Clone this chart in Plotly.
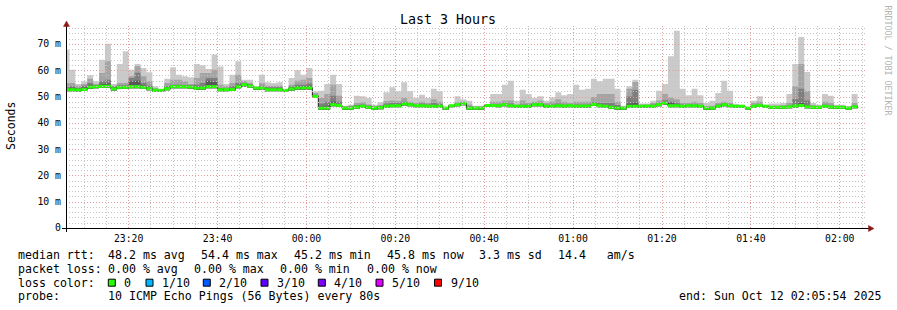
import math
from datetime import datetime, timedelta
import plotly.graph_objects as go

# ---------------- data ----------------
T_START = datetime(2025, 10, 11, 23, 5, 54)
T_END = datetime(2025, 10, 12, 2, 5, 54)
T_FIRST = datetime(2025, 10, 11, 23, 5, 20)
STEP_SECONDS = 80

median_ms = [
    52.6, 52.6, 52.5, 52.7, 53.6, 53.75, 53.9, 53.9, 52.9, 53.5,
    53.5, 53.75, 53.75, 53.5, 53.0, 52.35, 52.35, 53.0, 53.75, 53.75,
    53.75, 53.6, 53.25, 53.25, 53.75, 53.75, 52.6, 52.6, 52.7, 53.75,
    54.5, 54.0, 53.25, 53.25,
    52.6, 52.6, 52.6, 52.35, 52.9, 53.25, 53.25, 53.25, 50.0, 45.6,
    45.6, 46.9, 46.6, 45.6, 45.6, 46.0, 46.3, 45.9, 45.6, 45.75,
    46.3, 46.5, 46.5, 47.2, 46.9, 46.5, 46.5, 46.3, 46.3, 46.3,
    45.6, 46.5, 46.9, 47.3,
    45.6, 45.6, 45.6, 46.6, 46.6, 46.5, 46.9, 46.5, 46.3, 46.3,
    46.3, 46.9, 46.9, 46.3, 46.3, 46.5, 46.4, 46.5, 46.3, 46.4,
    46.4, 47.0, 46.5, 46.3, 45.9, 45.6, 45.6, 46.3, 46.3, 46.3,
    46.4, 46.3, 46.9, 47.5,
    46.5, 46.5, 46.3, 46.5, 46.5, 46.3, 45.6, 45.6, 46.3, 46.9,
    46.5, 46.3, 46.3, 45.6, 46.3, 46.6, 46.3, 45.9, 45.9, 45.9,
    46.1, 46.4, 46.6, 46.1, 45.9, 45.9, 46.3, 46.0, 45.9, 45.9,
    45.6, 46.1,
]

ping_min = [
    52.0, 52.0, 51.9, 52.1, 52.9, 53.1, 53.3, 53.2, 52.3, 52.9,
    52.9, 53.1, 53.1, 52.9, 52.4, 51.8, 51.8, 52.4, 53.1, 53.1,
    53.1, 53.0, 52.6, 52.6, 53.1, 53.1, 52.0, 52.0, 52.1, 53.1,
    53.8, 53.4, 52.6, 52.6,
    52.0, 52.0, 52.0, 51.9, 52.3, 52.6, 52.6, 52.6, 49.4, 45.0,
    45.0, 46.3, 46.0, 45.0, 45.0, 45.4, 45.7, 45.3, 45.0, 45.2,
    45.7, 45.9, 45.9, 46.6, 46.3, 45.9, 45.9, 45.7, 45.7, 45.7,
    45.0, 45.9, 46.3, 46.7,
    45.0, 45.0, 45.0, 46.0, 46.0, 45.9, 46.3, 45.9, 45.7, 45.7,
    45.7, 46.3, 46.3, 45.7, 45.7, 45.9, 45.8, 45.9, 45.7, 45.8,
    45.8, 46.4, 45.9, 45.7, 45.3, 45.0, 45.0, 45.7, 45.7, 45.7,
    45.8, 45.7, 46.3, 46.9,
    45.9, 45.9, 45.7, 45.9, 45.9, 45.7, 45.0, 45.0, 45.7, 46.3,
    45.9, 45.7, 45.7, 45.0, 45.7, 46.0, 45.7, 45.3, 45.3, 45.3,
    45.5, 45.8, 46.0, 45.5, 45.3, 45.3, 45.7, 45.4, 45.3, 45.3,
    45.0, 45.5,
]

ping_p7 = [
    53.2, 53.3, 53.0, 53.4, 54.3, 54.4, 54.8, 55.0, 53.4, 54.1,
    54.1, 55.8, 56.0, 54.2, 53.6, 52.6, 52.4, 53.5, 54.3, 54.3,
    54.4, 54.2, 53.8, 54.0, 56.0, 55.5, 53.0, 52.8, 53.2, 54.3,
    55.0, 54.5, 53.5, 53.7,
    53.1, 53.1, 53.1, 52.4, 53.4, 53.9, 53.9, 54.0, 50.4, 46.3,
    46.5, 48.0, 47.2, 45.9, 46.0, 46.5, 46.7, 46.3, 45.9, 46.1,
    46.8, 47.0, 47.0, 47.6, 47.3, 46.8, 46.9, 46.7, 46.8, 46.7,
    45.7, 46.5, 47.1, 47.5,
    46.0, 45.9, 45.9, 46.8, 46.9, 46.8, 47.2, 46.9, 46.6, 46.6,
    46.6, 47.2, 47.2, 46.6, 46.6, 46.8, 46.7, 46.8, 46.6, 46.7,
    46.7, 47.3, 46.9, 46.7, 46.4, 46.1, 45.8, 47.3, 47.6, 46.6,
    46.7, 46.6, 47.2, 47.8,
    47.6, 47.2, 46.6, 46.8, 46.8, 46.6, 45.9, 45.9, 46.6, 47.2,
    46.8, 46.6, 46.5, 45.7, 46.6, 46.9, 46.5, 46.1, 46.1, 46.1,
    46.4, 46.9, 47.5, 46.6, 46.1, 46.1, 46.6, 46.3, 46.1, 46.1,
    45.8, 46.4,
]

ping_p8 = [
    53.5, 53.9, 53.2, 54.1, 55.1, 54.1, 55.8, 56.4, 53.7, 54.1,
    54.1, 57.0, 59.0, 55.1, 54.1, 52.8, 52.6, 53.9, 54.5, 54.5,
    54.1, 53.9, 54.5, 55.1, 57.0, 57.0, 53.2, 53.0, 53.9, 55.1,
    54.8, 54.5, 53.6, 54.1,
    53.5, 53.5, 53.5, 52.4, 53.8, 54.5, 54.5, 55.0, 50.7, 47.3,
    48.0, 50.3, 48.0, 46.0, 46.3, 46.8, 47.0, 46.5, 46.0, 46.3,
    47.3, 47.5, 47.5, 48.0, 47.5, 47.0, 47.3, 47.0, 47.5, 47.2,
    45.8, 46.5, 47.3, 47.6,
    46.3, 46.0, 46.0, 46.9, 47.2, 47.2, 47.5, 47.3, 46.8, 47.0,
    47.0, 47.5, 47.5, 46.9, 47.0, 47.3, 47.0, 47.0, 47.0, 47.0,
    47.0, 47.8, 47.5, 47.5, 47.5, 46.8, 45.9, 50.0, 52.5, 46.8,
    46.8, 47.0, 47.5, 48.6,
    48.0, 47.6, 47.0, 47.0, 47.2, 46.8, 46.0, 46.0, 47.0, 47.5,
    47.0, 46.6, 46.5, 45.7, 46.8, 47.2, 46.5, 46.2, 46.2, 46.3,
    46.6, 49.0, 53.0, 48.5, 46.3, 46.2, 47.0, 46.6, 46.2, 46.2,
    45.8, 46.6,
]

ping_p9 = [
    55.1, 55.1, 54.1, 54.8, 56.8, 54.8, 58.9, 63.4, 54.1, 55.1,
    55.1, 57.7, 61.5, 57.7, 55.8, 53.2, 52.9, 55.1, 56.4, 56.4,
    55.8, 54.8, 57.0, 58.9, 58.9, 60.2, 54.5, 53.9, 55.1, 58.3,
    55.8, 55.1, 53.5, 55.1,
    54.1, 54.1, 54.1, 52.4, 54.5, 56.0, 56.4, 57.0, 51.3, 49.4,
    51.0, 54.5, 50.3, 46.3, 46.5, 47.5, 47.8, 47.0, 46.5, 46.8,
    48.3, 48.5, 48.3, 49.4, 48.0, 47.5, 48.0, 47.5, 49.0, 48.0,
    46.0, 46.6, 47.8, 48.0,
    47.0, 46.2, 46.2, 47.0, 48.0, 48.0, 48.5, 48.5, 47.0, 48.5,
    47.5, 48.0, 48.5, 47.5, 48.0, 49.0, 48.0, 47.5, 48.0, 48.0,
    48.0, 49.8, 51.0, 51.0, 51.0, 48.0, 46.0, 53.0, 55.5, 47.0,
    47.0, 47.5, 48.5, 51.0,
    49.5, 49.0, 47.5, 47.5, 48.0, 47.5, 46.3, 46.5, 47.5, 48.0,
    47.5, 46.8, 46.6, 45.8, 47.5, 48.0, 46.6, 46.5, 46.5, 46.8,
    47.5, 53.9, 62.4, 52.0, 46.8, 46.5, 48.0, 47.5, 46.5, 46.5,
    46.0, 47.5,
]

ping_max = [
    67.8, 60.2, 54.8, 55.8, 58.1, 55.8, 64.0, 70.1, 54.8, 62.4,
    67.2, 60.2, 62.4, 60.85, 59.2, 53.9, 52.9, 56.8, 61.1, 58.3,
    57.7, 57.3, 62.4, 61.9, 60.5, 66.0, 61.4, 54.8, 58.3, 63.4,
    56.4, 56.4, 53.9, 58.3,
    55.4, 55.1, 55.4, 52.4, 57.0, 60.0, 58.3, 60.8, 52.0, 52.2,
    54.8, 58.3, 54.8, 46.5, 46.9, 50.3, 50.1, 49.4, 46.9, 47.8,
    51.6, 53.5, 52.0, 55.4, 52.0, 49.4, 50.7, 49.4, 53.0, 52.0,
    45.9, 46.9, 50.1, 49.0,
    48.4, 46.5, 46.5, 47.2, 51.0, 51.0, 54.5, 56.0, 48.4, 52.6,
    51.0, 49.4, 50.1, 48.4, 49.7, 51.6, 50.5, 51.0, 54.5, 52.6,
    53.0, 56.8, 55.8, 56.8, 56.8, 53.0, 46.5, 53.9, 56.4, 47.3,
    47.3, 48.4, 52.2, 54.8,
    65.3, 75.0, 53.0, 50.5, 53.0, 50.5, 47.5, 48.4, 51.3, 56.0,
    52.2, 47.2, 46.9, 45.9, 48.4, 50.1, 46.9, 47.3, 47.3, 47.5,
    51.0, 62.4, 72.6, 59.3, 47.5, 46.9, 51.0, 50.3, 46.9, 46.9,
    46.4, 51.0,
]

y_tick_vals = [0, 10, 20, 30, 40, 50, 60, 70]
y_tick_text = ["0", "10 m", "20 m", "30 m", "40 m", "50 m", "60 m", "70 m"]

legend_rows = [
    [(16.7, "median rtt:"), (107.3, "48.2 ms avg"), (200.0, "54.4 ms max"),
     (293.0, "45.2 ms min"), (386.0, "45.8 ms now"), (478.3, "3.3 ms sd"),
     (557.3, "14.4   am/s")],
    [(16.7, "packet loss:"), (107.3, "0.00 % avg"), (193.3, "0.00 % max"),
     (279.3, "0.00 % min"), (365.7, "0.00 % now")],
    [(16.7, "loss color:")],
    [(16.7, "probe:"), (107.3, "10 ICMP Echo Pings (56 Bytes) every 80s"),
     (678.3, "end: Sun Oct 12 02:05:54 2025")],
]
legend_row_y = [254.7, 268.7, 282.7, 296.3]
loss_labels = ["0", "1/10", "2/10", "3/10", "4/10", "5/10", "9/10"]
loss_colors = ["#26ff00", "#00b8ff", "#0059ff", "#5e00ff", "#7e00ff", "#dd00ff", "#ff0000"]
loss_square_x = [108.3, 146.0, 203.3, 261.0, 318.3, 376.0, 434.5]

# ---------------- layout geometry ----------------
W, H = 897, 310
ML, MR, MT, MB = 66, 31, 25, 82
PW = W - ML - MR
PH = H - MT - MB
YMAX = 77.2
SPAN_S = (T_END - T_START).total_seconds()
FONT = "DejaVu Sans Mono"


def px(x):
    return (x - ML) / PW


def py(y):
    return (MT + PH - y) / PH


n = len(median_ms)
for arr in (ping_min, ping_p7, ping_p8, ping_p9, ping_max):
    assert len(arr) == n, len(arr)

edges = [T_FIRST + timedelta(seconds=STEP_SECONDS * i) for i in range(n + 1)]


def stepped(vals):
    return list(vals) + [vals[-1]]


fig = go.Figure()

bands = [
    (ping_min, ping_max, "#cacaca"),
    (ping_min, ping_p9, "#a4a4a4"),
    (ping_min, ping_p8, "#7e7e7e"),
    (ping_min, ping_p7, "#585858"),
]
for low, high, col in bands:
    fig.add_trace(go.Scatter(x=edges, y=stepped(low), mode="lines",
                             line=dict(width=0, shape="hv"), hoverinfo="skip",
                             showlegend=False))
    fig.add_trace(go.Scatter(x=edges, y=stepped(high), mode="lines",
                             line=dict(width=0, shape="hv"), fill="tonexty",
                             fillcolor=col, hoverinfo="skip", showlegend=False))

# thin dark median step line
fig.add_trace(go.Scatter(x=edges, y=stepped(median_ms), mode="lines",
                         line=dict(width=1, shape="hv", color="#202020"),
                         hoverinfo="skip", showlegend=False))

# green median segments (loss colour 0)
gx, gy = [], []
for k in range(n):
    gx += [edges[k], edges[k + 1], None]
    gy += [median_ms[k], median_ms[k], None]
fig.add_trace(go.Scatter(x=gx, y=gy, mode="lines",
                         line=dict(width=3, color="#26ff00"),
                         hoverinfo="skip", showlegend=False))

shapes = []
# grid (drawn over data like rrdtool)
MINOR_C = "#c4c4c4"
MAJOR_C = "#e59a9a"
DASH = "1px,2px"
t = datetime(2025, 10, 11, 23, 10, 0)
while t <= T_END:
    xpix = ML + (t - T_START).total_seconds() / SPAN_S * PW
    xs = math.floor(xpix) + 0.5
    major = (t.minute % 20 == 0)
    shapes.append(dict(type="line", xref="paper", yref="paper", x0=px(xs), x1=px(xs),
                       y0=0, y1=1, layer="above",
                       line=dict(color=MAJOR_C if major else MINOR_C, width=1, dash=DASH)))
    t += timedelta(minutes=5)
for v in range(2, 77, 2):
    ypix = MT + PH - v / YMAX * PH
    ys = round(ypix) + 0.5
    major = (v % 10 == 0)
    shapes.append(dict(type="line", xref="paper", yref="paper", x0=0, x1=1,
                       y0=py(ys), y1=py(ys), layer="above",
                       line=dict(color=MAJOR_C if major else MINOR_C, width=1, dash=DASH)))

# axes lines
shapes.append(dict(type="line", xref="paper", yref="paper", x0=px(62), x1=px(869),
                   y0=py(228.5), y1=py(228.5), layer="above", line=dict(color="#000000", width=1)))
shapes.append(dict(type="line", xref="paper", yref="paper", x0=px(66.5), x1=px(66.5),
                   y0=py(232), y1=py(25), layer="above", line=dict(color="#000000", width=1)))
ARROW_C = "#8c1818"
shapes.append(dict(type="path", xref="paper", yref="paper", layer="above",
                   path=f"M {px(868.5)} {py(225.5)} L {px(874)} {py(228.5)} L {px(868.5)} {py(231.5)} Z",
                   fillcolor=ARROW_C, line=dict(color=ARROW_C, width=0.5)))
shapes.append(dict(type="path", xref="paper", yref="paper", layer="above",
                   path=f"M {px(63.5)} {py(26.5)} L {px(66.5)} {py(21)} L {px(69.5)} {py(26.5)} Z",
                   fillcolor=ARROW_C, line=dict(color=ARROW_C, width=0.5)))

# legend squares
for sx, col in zip(loss_square_x, loss_colors):
    shapes.append(dict(type="rect", xref="paper", yref="paper",
                       x0=px(sx), x1=px(sx + 7), y0=py(286.2), y1=py(279.2),
                       fillcolor=col, line=dict(color="#000000", width=1), layer="above"))

NB = "\u00a0"
annotations = []


def add_text(x, y, text, size=11.6, color="#000000", anchor="left", angle=0):
    annotations.append(dict(x=px(x), y=py(y), xref="paper", yref="paper",
                            text=text.replace(" ", NB), showarrow=False,
                            xanchor=anchor, yanchor="middle", textangle=angle,
                            borderpad=0, font=dict(family=FONT, size=size, color=color)))


add_text(448, 19.5, "Last 3 Hours", size=13.3, anchor="center")
add_text(11, 126, "Seconds", size=11.5, anchor="center", angle=-90)
add_text(887.5, 60, "RRDTOOL / TOBI OETIKER", size=8.3, color="#b4b4b4", anchor="center", angle=90)
for row, yrow in zip(legend_rows, legend_row_y):
    for x, txt in row:
        add_text(x, yrow, txt)
for sx, lab in zip(loss_square_x, loss_labels):
    add_text(sx + 15, 282.7, lab)

fig.update_layout(
    width=W, height=H,
    margin=dict(l=ML, r=MR, t=MT, b=MB, pad=0),
    paper_bgcolor="#ffffff", plot_bgcolor="#ffffff",
    showlegend=False, hovermode=False,
    shapes=shapes, annotations=annotations,
    xaxis=dict(type="date", range=[T_START, T_END], showgrid=False, zeroline=False,
               showline=False, ticks="", tickformat="%H:%M",
               tick0="2025-10-11 23:20:00", dtick=20 * 60 * 1000,
               tickfont=dict(family=FONT, size=9.8, color="#000000"),
               ticklabelstandoff=3, automargin=False, fixedrange=True),
    yaxis=dict(range=[0, YMAX], showgrid=False, zeroline=False, showline=False,
               ticks="", tickmode="array", tickvals=y_tick_vals, ticktext=y_tick_text,
               tickfont=dict(family=FONT, size=9.8, color="#000000"),
               ticklabelstandoff=4, automargin=False, fixedrange=True),
)

fig.write_html("out.html")
